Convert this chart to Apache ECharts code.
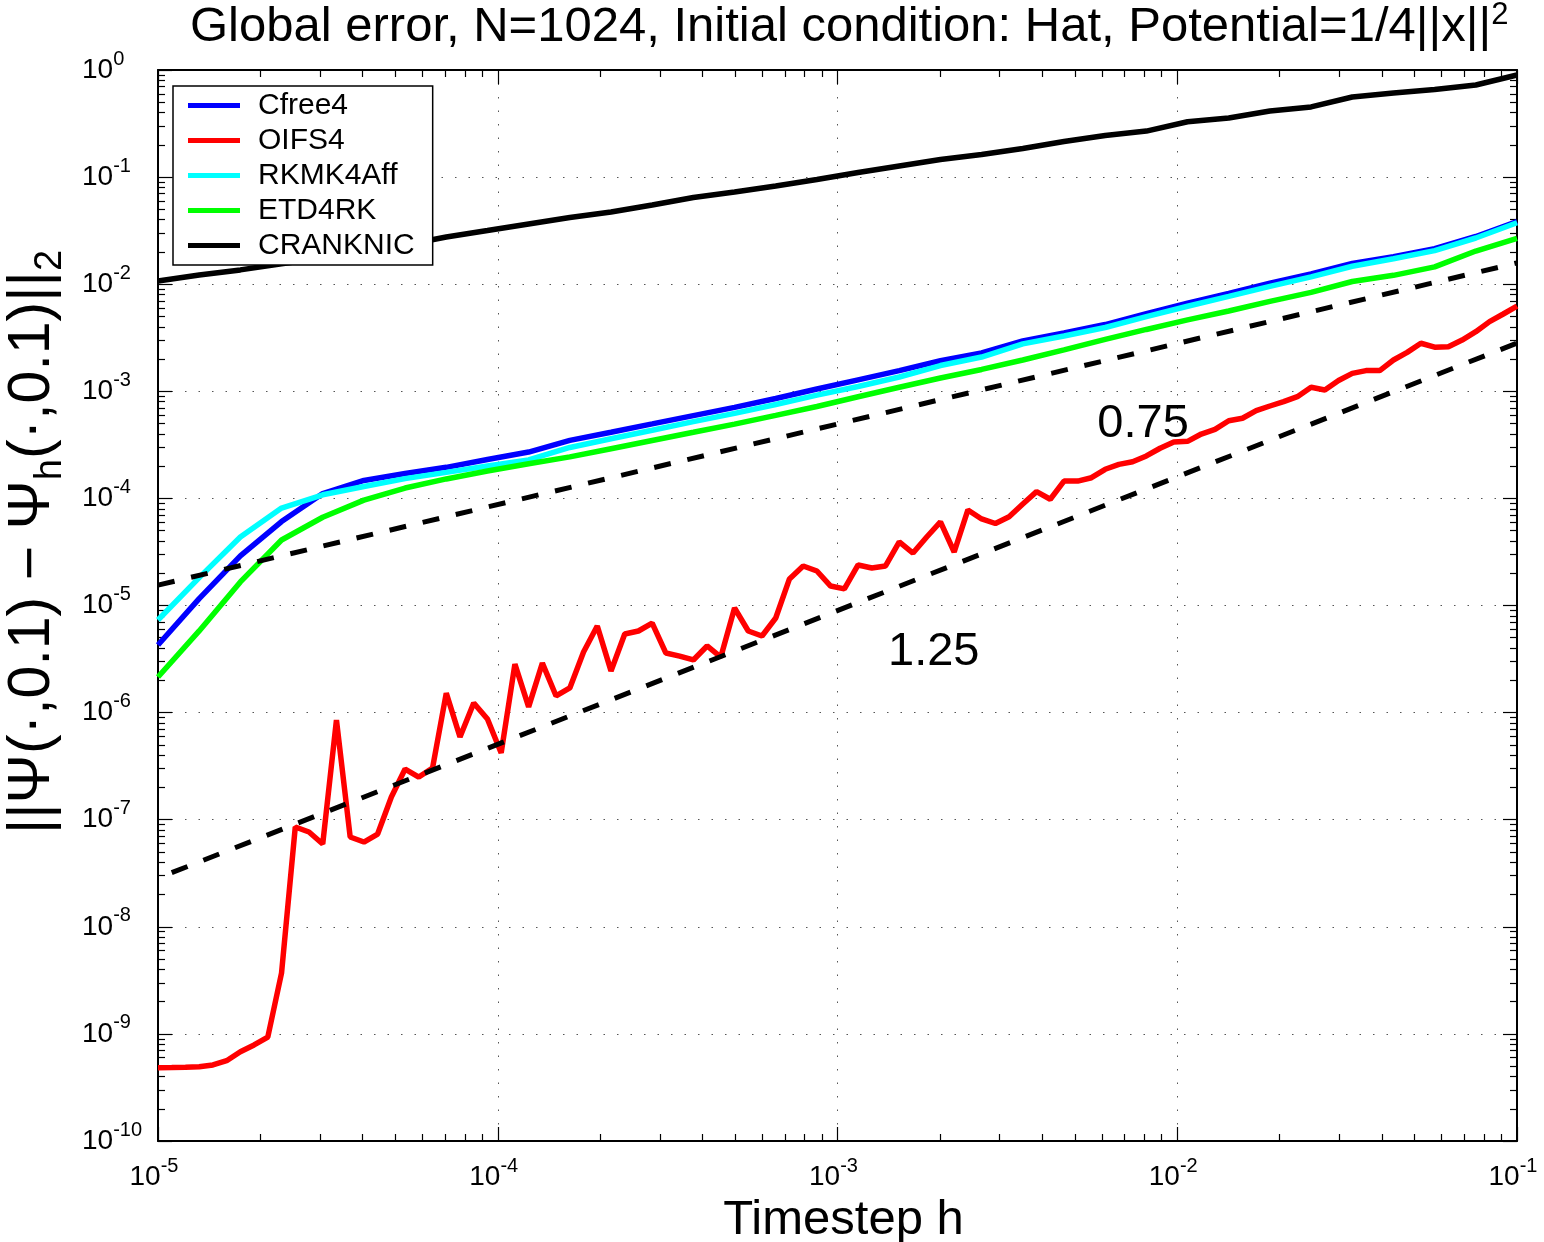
<!DOCTYPE html>
<html><head><meta charset="utf-8">
<script src="https://cdn.jsdelivr.net/npm/echarts@6/dist/echarts.min.js"></script>
<style>html,body{margin:0;padding:0;background:#fff}#c{width:1544px;height:1242px}</style>
</head><body><div id="c"></div>
<script>
// ---- data ----
const hFine = [
1e-5, 1.0975e-5, 1.2045e-5, 1.3219e-5, 1.4508e-5, 1.5922e-5, 1.7475e-5, 1.9179e-5, 2.1049e-5, 2.3101e-5,
2.5354e-5, 2.7826e-5, 3.0539e-5, 3.3516e-5, 3.6784e-5, 4.0370e-5, 4.4306e-5, 4.8626e-5, 5.3367e-5, 5.8570e-5,
6.4281e-5, 7.0548e-5, 7.7426e-5, 8.4975e-5, 9.3260e-5, 1.0235e-4, 1.1233e-4, 1.2328e-4, 1.3530e-4, 1.4850e-4,
1.6298e-4, 1.7886e-4, 1.9630e-4, 2.1544e-4, 2.3645e-4, 2.5950e-4, 2.8480e-4, 3.1257e-4, 3.4305e-4, 3.7649e-4,
4.1320e-4, 4.5349e-4, 4.9770e-4, 5.4623e-4, 5.9948e-4, 6.5793e-4, 7.2208e-4, 7.9248e-4, 8.6975e-4, 9.5455e-4,
1.0476e-3, 1.1498e-3, 1.2619e-3, 1.3849e-3, 1.5199e-3, 1.6681e-3, 1.8307e-3, 2.0092e-3, 2.2051e-3, 2.4201e-3,
2.6561e-3, 2.9151e-3, 3.1993e-3, 3.5112e-3, 3.8535e-3, 4.2292e-3, 4.6416e-3, 5.0941e-3, 5.5908e-3, 6.1359e-3,
6.7342e-3, 7.3907e-3, 8.1113e-3, 8.9022e-3, 9.7701e-3, 1.0723e-2, 1.1768e-2, 1.2915e-2, 1.4175e-2, 1.5557e-2,
1.7074e-2, 1.8738e-2, 2.0565e-2, 2.2570e-2, 2.4771e-2, 2.7186e-2, 2.9837e-2, 3.2745e-2, 3.5938e-2, 3.9442e-2,
4.3288e-2, 4.7508e-2, 5.2140e-2, 5.7224e-2, 6.2803e-2, 6.8926e-2, 7.5646e-2, 8.3022e-2, 9.1116e-2, 1e-1];

const oifs4 = [
4.83e-10, 4.85e-10, 4.88e-10, 4.94e-10, 5.13e-10, 5.62e-10, 6.82e-10, 7.88e-10, 9.35e-10, 3.70e-9,
8.55e-8, 7.67e-8, 5.93e-8, 8.53e-7, 6.89e-8, 6.19e-8, 7.35e-8, 1.63e-7, 2.97e-7, 2.50e-7,
3.04e-7, 1.52e-6, 5.92e-7, 1.23e-6, 8.71e-7, 4.20e-7, 2.84e-6, 1.13e-6, 2.90e-6, 1.43e-6,
1.70e-6, 3.68e-6, 6.44e-6, 2.45e-6, 5.42e-6, 5.78e-6, 6.86e-6, 3.60e-6, 3.37e-6, 3.10e-6,
4.19e-6, 3.30e-6, 9.48e-6, 5.78e-6, 5.19e-6, 7.64e-6, 1.77e-5, 2.34e-5, 2.10e-5, 1.52e-5,
1.43e-5, 2.39e-5, 2.24e-5, 2.34e-5, 3.92e-5, 3.09e-5, 4.36e-5, 6.03e-5, 3.16e-5, 7.80e-5,
6.43e-5, 5.83e-5, 6.75e-5, 8.87e-5, 1.156e-4, 9.82e-5, 1.45e-4, 1.45e-4, 1.56e-4, 1.87e-4,
2.08e-4, 2.20e-4, 2.49e-4, 2.94e-4, 3.36e-4, 3.41e-4, 3.99e-4, 4.41e-4, 5.31e-4, 5.60e-4,
6.59e-4, 7.29e-4, 8.00e-4, 8.91e-4, 1.09e-3, 1.03e-3, 1.26e-3, 1.47e-3, 1.56e-3, 1.56e-3,
1.96e-3, 2.31e-3, 2.81e-3, 2.58e-3, 2.61e-3, 3.01e-3, 3.60e-3, 4.47e-3, 5.27e-3, 6.25e-3];

const hCoarse = [
1e-5, 1.3219e-5, 1.7475e-5, 2.3101e-5, 3.0539e-5, 4.0370e-5, 5.3367e-5, 7.0548e-5, 9.3260e-5, 1.2328e-4,
1.6298e-4, 2.1544e-4, 2.8480e-4, 3.7649e-4, 4.9770e-4, 6.5793e-4, 8.6975e-4, 1.1498e-3, 1.5199e-3, 2.0092e-3,
2.6561e-3, 3.5112e-3, 4.6416e-3, 6.1359e-3, 8.1113e-3, 1.0723e-2, 1.4175e-2, 1.8738e-2, 2.4771e-2, 3.2745e-2,
4.3288e-2, 5.7224e-2, 7.5646e-2, 1e-1];

const cfree4 = [
4.28e-6, 1.16e-5, 2.91e-5, 6.08e-5, 1.11e-4, 1.47e-4, 1.71e-4, 1.95e-4, 2.31e-4, 2.71e-4,
3.48e-4, 4.15e-4, 4.96e-4, 5.93e-4, 7.08e-4, 8.57e-4, 1.05e-3, 1.28e-3, 1.56e-3, 1.93e-3,
2.28e-3, 2.95e-3, 3.50e-3, 4.20e-3, 5.31e-3, 6.65e-3, 8.21e-3, 1.02e-2, 1.25e-2, 1.56e-2,
1.81e-2, 2.15e-2, 2.79e-2, 3.85e-2];

const rkmk4aff = [
7.32e-6, 1.82e-5, 4.36e-5, 8.13e-5, 1.08e-4, 1.29e-4, 1.53e-4, 1.75e-4, 2.01e-4, 2.29e-4,
2.99e-4, 3.61e-4, 4.33e-4, 5.21e-4, 6.22e-4, 7.53e-4, 9.20e-4, 1.11e-3, 1.36e-3, 1.74e-3,
2.09e-3, 2.77e-3, 3.28e-3, 3.94e-3, 4.98e-3, 6.23e-3, 7.69e-3, 9.55e-3, 1.17e-2, 1.47e-2,
1.73e-2, 2.06e-2, 2.70e-2, 3.75e-2];

const etd4rk = [
2.15e-6, 5.79e-6, 1.66e-5, 4.09e-5, 6.67e-5, 9.64e-5, 1.25e-4, 1.52e-4, 1.80e-4, 2.11e-4,
2.44e-4, 2.91e-4, 3.47e-4, 4.14e-4, 4.94e-4, 5.96e-4, 7.21e-4, 8.89e-4, 1.09e-3, 1.33e-3,
1.60e-3, 1.96e-3, 2.44e-3, 3.05e-3, 3.78e-3, 4.64e-3, 5.62e-3, 6.92e-3, 8.38e-3, 1.06e-2,
1.21e-2, 1.45e-2, 2.04e-2, 2.68e-2];

const cranknic = [
1.07e-2, 1.22e-2, 1.36e-2, 1.55e-2, 1.76e-2, 2.00e-2, 2.32e-2, 2.76e-2, 3.17e-2, 3.65e-2,
4.20e-2, 4.72e-2, 5.49e-2, 6.45e-2, 7.26e-2, 8.26e-2, 9.50e-2, 0.1104, 0.127, 0.146,
0.1626, 0.185, 0.215, 0.245, 0.269, 0.329, 0.356, 0.414, 0.452, 0.560,
0.610, 0.658, 0.724, 0.898];

const ref075H = [1e-5, 1e-1];
const ref075 = [1.55e-5, 1.58e-2];
const ref125H = [1.0975e-5, 1e-1];
const ref125 = [3.20e-8, 2.82e-3];

const slopeText = ['0.75', '1.25'];
const slopeH = [7.93e-3, 1.92e-3];
const slopeV = [4.95e-4, 3.68e-6];

const seriesNames = ['Cfree4', 'OIFS4', 'RKMK4Aff', 'ETD4RK', 'CRANKNIC'];
const xDecades = [1e-5, 1e-4, 1e-3, 1e-2];
const yDecades = [1e-10, 1e-9, 1e-8, 1e-7, 1e-6, 1e-5, 1e-4, 1e-3, 1e-2, 1e-1];
const minorMult = [2, 3, 4, 5, 6, 7, 8, 9];

// ---- helpers ----
const zip = (xs, ys) => xs.map((x, i) => [x, ys[i]]);
const minorOf = decs => decs.flatMap(d => minorMult.map(m => m * d));
const xMinor = minorOf(xDecades);
const yMinor = minorOf(yDecades);
const xMajor = xDecades.concat([1e-1]);
const yMajor = yDecades.concat([1]);
const FF = '"Liberation Sans", Arial, Helvetica, sans-serif';
const rich = {
  b: {fontSize: 28, lineHeight: 42, fontFamily: FF, color: '#000'},
  s: {fontSize: 20, verticalAlign: 'top', fontFamily: FF, color: '#000'}
};
const expLabel = v => '{b|10}{s|' + Math.round(Math.log10(v)) + '}';

function axis(kind, pos, major, extra) {
  const isX = kind === 'x';
  const a = {
    type: 'log', logBase: 10,
    min: isX ? 1e-5 : 1e-10, max: isX ? 1e-1 : 1,
    interval: 1, splitNumber: isX ? 4 : 10,
    position: pos,
    axisLine: {show: major, onZero: false, lineStyle: {color: '#000', width: 2}},
    axisTick: major
      ? {show: true, inside: true, length: 14, customValues: isX ? xMajor : yMajor, lineStyle: {color: '#000', width: 1.2}}
      : {show: true, inside: true, length: 7, customValues: isX ? xMinor : yMinor, lineStyle: {color: '#000', width: 1.2}},
    axisLabel: {show: false},
    splitLine: {show: false},
    minorTick: {show: false},
    minorSplitLine: {show: false}
  };
  return Object.assign(a, extra || {});
}

const chart = echarts.init(document.getElementById('c'), null, {renderer: 'canvas'});

const lineSeries = (name, xs, ys, color) => ({
  name, type: 'line', data: zip(xs, ys), showSymbol: false, symbol: 'none',
  lineStyle: {color, width: 5.5}, itemStyle: {color}, silent: true
});

const gridDots = {show: true, lineStyle: {color: '#555', width: 1, type: [1.5, 12]}};

chart.setOption({
  animation: false,
  backgroundColor: '#fff',
  title: {
    text: '{t|Global error, N=1024, Initial condition: Hat, Potential=1/4||x||}{s|2}',
    left: 190, top: 0, padding: 0,
    textStyle: {
      fontWeight: 'normal',
      rich: {
        t: {fontSize: 49, lineHeight: 54, fontFamily: FF, fontWeight: 'normal', color: '#000'},
        s: {fontSize: 31, verticalAlign: 'top', fontFamily: FF, fontWeight: 'normal', color: '#000'}
      }
    }
  },
  grid: {left: 158, right: 27, top: 70, bottom: 101, containLabel: false, outerBoundsMode: 'none'},
  legend: {
    data: seriesNames, orient: 'vertical', left: 173, top: 86,
    padding: [2, 18, 2, 15], itemGap: 0, itemWidth: 52, itemHeight: 5, icon: 'rect',
    borderColor: '#000', borderWidth: 1.5, backgroundColor: '#fff',
    textStyle: {fontSize: 30, lineHeight: 35, fontFamily: FF, color: '#000', padding: [0, 0, 0, 13]},
    z: 20
  },
  xAxis: [
    axis('x', 'bottom', true, {
      axisLabel: {show: true, margin: 15, formatter: expLabel, rich, padding: [0, 8, 0, 0], customValues: xMajor},
      splitLine: gridDots,
      name: 'Timestep h', nameLocation: 'middle', nameGap: 54,
      nameTextStyle: {fontSize: 49, fontFamily: FF, color: '#000', padding: [0, 0, 0, 12]}
    }),
    axis('x', 'bottom', false),
    axis('x', 'top', true),
    axis('x', 'top', false)
  ],
  yAxis: [
    axis('y', 'left', true, {
      axisLabel: {show: true, margin: 76, align: 'left', formatter: expLabel, rich, customValues: yMajor},
      splitLine: gridDots
    }),
    axis('y', 'left', false),
    axis('y', 'right', true),
    axis('y', 'right', false)
  ],
  graphic: [{
    type: 'text', x: 33, y: 542, rotation: Math.PI / 2,
    style: {
      text: '{a|||Ψ(·,0.1) − Ψ}{b|h}{a|(·,0.1)||}{b|2}',
      align: 'center', verticalAlign: 'middle',
      rich: {
        a: {fontSize: 59, lineHeight: 74, fontFamily: FF, fill: '#000'},
        b: {fontSize: 38, verticalAlign: 'bottom', fontFamily: FF, fill: '#000'}
      }
    }
  }],
  series: [
    lineSeries('Cfree4', hCoarse, cfree4, '#0000ff'),
    lineSeries('OIFS4', hFine, oifs4, '#ff0000'),
    lineSeries('RKMK4Aff', hCoarse, rkmk4aff, '#00ffff'),
    lineSeries('ETD4RK', hCoarse, etd4rk, '#00ff00'),
    lineSeries('CRANKNIC', hCoarse, cranknic, '#000000'),
    {name: 'slope 0.75', type: 'line', data: zip(ref075H, ref075), showSymbol: false, symbol: 'none', silent: true,
     lineStyle: {color: '#000', width: 5, type: [17, 17]}},
    {name: 'slope 1.25', type: 'line', data: zip(ref125H, ref125), showSymbol: false, symbol: 'none', silent: true,
     lineStyle: {color: '#000', width: 5, type: [17, 17]}},
    {name: 'slopes', type: 'scatter', symbolSize: 0, silent: true, z: 5,
     itemStyle: {opacity: 1},
     data: slopeText.map((t, i) => ({value: [slopeH[i], slopeV[i]], name: t})),
     label: {show: true, position: 'inside', formatter: p => p.name, fontSize: 47, fontFamily: FF, color: '#000', opacity: 1}}
  ]
});
</script>
</body></html>
